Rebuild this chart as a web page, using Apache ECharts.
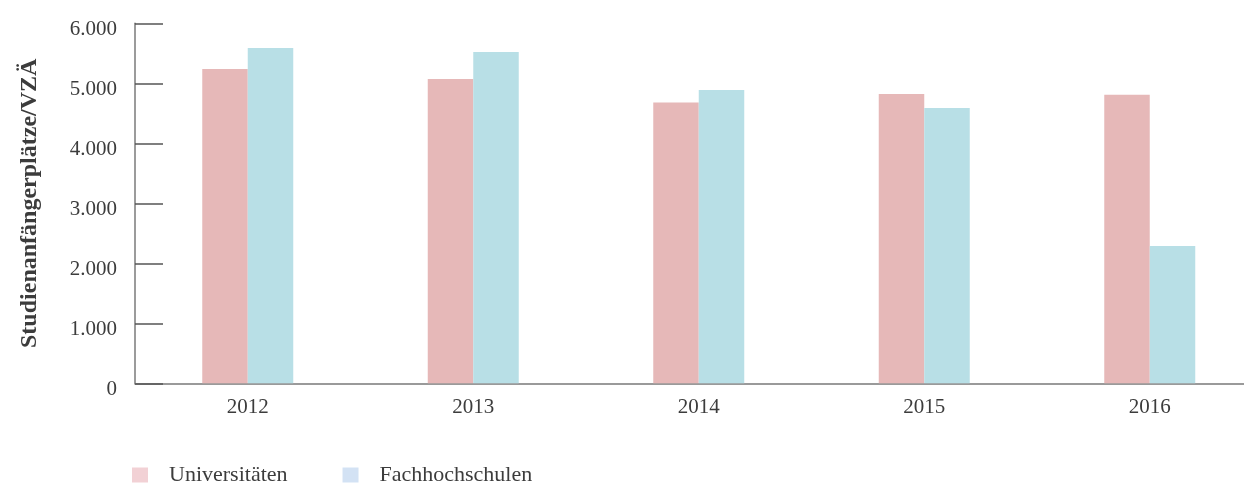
<!DOCTYPE html>
<html>
<head>
<meta charset="utf-8">
<script src="https://cdn.jsdelivr.net/npm/echarts@6/dist/echarts.min.js"></script>
<style>
html,body{margin:0;padding:0;background:#fff;overflow:hidden;width:1244px;height:483px;}
#c{width:1263px;height:483px;}
</style>
</head>
<body>
<div id="c"></div>
<script>
const years = ['2012', '2013', '2014', '2015', '2016'];
const universitaeten = [5240, 5070, 4680, 4820, 4810];
const fachhochschulen = [5590, 5520, 4890, 4590, 2290];
const seriesNames = ['Universitäten', 'Fachhochschulen'];
const yAxisTitle = 'Studienanfängerplätze/VZÄ';

const FONT = '"Liberation Serif", "DejaVu Serif", serif';
const chart = echarts.init(document.getElementById('c'));
function fmt(v) {
  const s = String(Math.round(v));
  return s.replace(/\B(?=(\d{3})+(?!\d))/g, '.');
}
chart.setOption({
  animation: false,
  textStyle: { fontFamily: FONT, color: '#3c3c3c' },
  grid: { left: 135, top: 23.3, height: 360, width: 1127.5, containLabel: false },
  legend: {
    left: 127,
    top: 459,
    itemWidth: 16,
    itemHeight: 15,
    itemGap: 55,
    icon: 'rect',
    textStyle: { fontFamily: FONT, fontSize: 22, color: '#3c3c3c', padding: [0, 0, 0, 16] },
    data: [
      { name: seriesNames[0], itemStyle: { color: '#f2d1d5' } },
      { name: seriesNames[1], itemStyle: { color: '#d3e2f4' } }
    ]
  },
  xAxis: {
    type: 'category',
    data: years,
    axisLine: { show: true, lineStyle: { color: '#7a7a7a', width: 1.5 } },
    axisTick: { show: false },
    axisLabel: { fontFamily: FONT, fontSize: 21, color: '#3c3c3c', margin: 14 }
  },
  yAxis: {
    type: 'value',
    min: 0,
    max: 6000,
    interval: 1000,
    name: yAxisTitle,
    nameLocation: 'middle',
    nameGap: 93,
    nameTextStyle: { fontFamily: FONT, fontSize: 24, fontWeight: 'bold', color: '#3c3c3c' },
    axisLine: { show: true, lineStyle: { color: '#7a7a7a', width: 1.5 } },
    axisTick: { show: true, inside: true, length: 28, lineStyle: { color: '#555', width: 1.5 } },
    splitLine: { show: false },
    axisLabel: { fontFamily: FONT, fontSize: 21, color: '#3c3c3c', margin: 18, verticalAlign: 'top', lineHeight: 12, formatter: fmt }
  },
  series: [
    {
      name: seriesNames[0], type: 'bar', data: universitaeten,
      barWidth: 45.5, barGap: '0%',
      itemStyle: { color: '#e6b8b8' }
    },
    {
      name: seriesNames[1], type: 'bar', data: fachhochschulen,
      barWidth: 45.5, barGap: '0%',
      itemStyle: { color: '#b8dfe6' }
    }
  ]
});
</script>
</body>
</html>
